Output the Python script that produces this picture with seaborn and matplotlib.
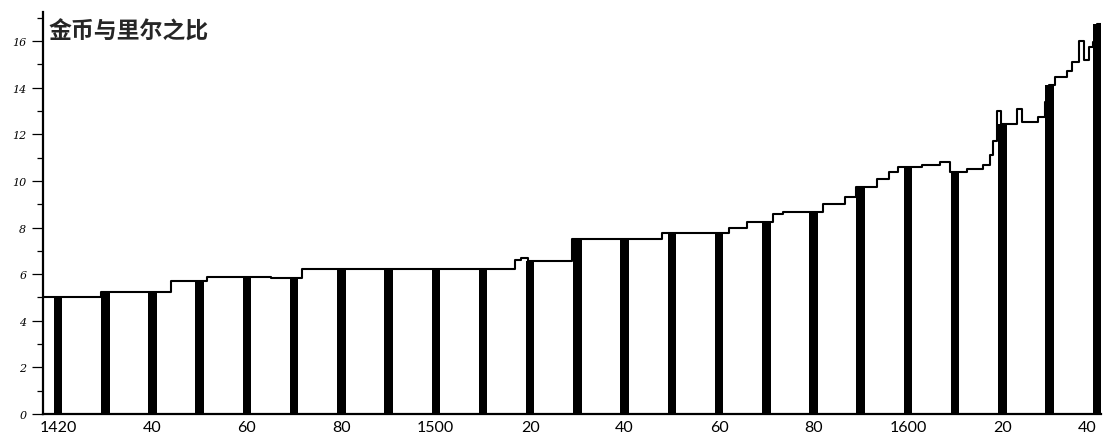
import matplotlib
matplotlib.use("Agg")
import matplotlib.pyplot as plt
from matplotlib.ticker import MultipleLocator
import seaborn as sns

# Gold : real ratio, value at each decade (drawn as bars)
decades = [1420, 1430, 1440, 1450, 1460, 1470, 1480, 1490, 1500, 1510, 1520, 1530,
           1540, 1550, 1560, 1570, 1580, 1590, 1600, 1610, 1620, 1630, 1640]
decade_ratio = [5.0, 5.22, 5.22, 5.7, 5.88, 5.82, 6.22, 6.22, 6.22, 6.22, 6.55, 7.5,
                7.5, 7.75, 7.75, 8.24, 8.67, 9.75, 10.6, 10.4, 12.45, 14.1, 16.75]

# Year-by-year changes of the ratio (step curve)
step_years = [1416.8, 1429, 1444, 1451.6, 1465, 1471.7, 1516.8, 1518, 1519.5, 1528.9,
              1548, 1562, 1566, 1571.5, 1573.6, 1582, 1586.7, 1588.9, 1593.5, 1596,
              1597.8, 1603, 1606.9, 1609, 1612.6, 1616, 1617.3, 1618, 1618.9, 1619.8,
              1623.2, 1624.2, 1627.6, 1629, 1629.8, 1631.2, 1633.8, 1634.8, 1636.2,
              1637.4, 1638.3, 1639.3, 1640, 1640.9]
step_ratio = [5.0, 5.22, 5.7, 5.88, 5.82, 6.22, 6.6, 6.7, 6.55, 7.5,
              7.75, 8.0, 8.24, 8.58, 8.67, 9.0, 9.3, 9.75, 10.1, 10.4,
              10.58, 10.68, 10.8, 10.4, 10.5, 10.68, 11.1, 11.7, 13.0, 12.45,
              13.1, 12.55, 12.75, 13.4, 14.1, 14.45, 14.7, 15.1, 16.0,
              15.2, 15.75, 15.95, 16.75, 16.75]

x_ticks = [1420, 1440, 1460, 1480, 1500, 1520, 1540, 1560, 1580, 1600, 1620, 1640]
x_labels = ["1420", "40", "60", "80", "1500", "20", "40", "60", "80", "1600", "20", "40"]
y_ticks = [0, 2, 4, 6, 8, 10, 12, 14, 16]
title = "金币与里尔之比"

sns.set_theme(style="white")
plt.rcParams["font.family"] = ["Lato", "DejaVu Sans"]

fig = plt.figure(figsize=(11.03, 4.35), dpi=100)
ax = fig.add_axes([43 / 1103, 20 / 435, 1058 / 1103, 402 / 435])

sns.barplot(x=decades, y=decade_ratio, native_scale=True, width=0.18,
            color="black", saturation=1, edgecolor="black", linewidth=0, ax=ax)
sns.lineplot(x=step_years, y=step_ratio, drawstyle="steps-post", color="black",
             linewidth=1.5, errorbar=None, ax=ax)

ax.set_xlim(1416.8, 1640.9)
ax.set_ylim(0, 17.25)

ax.set_xticks(x_ticks)
ax.set_xticklabels(x_labels, fontsize=11.5)
ax.tick_params(axis="x", length=0, pad=4, colors="black")
# keep the last year label inside the figure
ax.get_xticklabels()[-1].set_horizontalalignment("right")

ax.set_yticks(y_ticks)
ax.set_yticklabels([str(v) for v in y_ticks], fontsize=8, style="italic",
                   family=["DejaVu Serif"])
ax.yaxis.set_minor_locator(MultipleLocator(1))
ax.tick_params(axis="y", which="major", left=True, length=8, width=0.9,
               direction="out", pad=4, colors="black")
ax.tick_params(axis="y", which="minor", left=True, length=4, width=0.9,
               direction="out", colors="black")

for side in ("top", "right"):
    ax.spines[side].set_visible(False)
for side in ("left", "bottom"):
    ax.spines[side].set_color("black")
    ax.spines[side].set_linewidth(1.6)
ax.set_xlabel("")
ax.set_ylabel("")

ax.text(0.005, 0.952, title, transform=ax.transAxes, fontsize=16.5,
        fontweight="bold", va="center", ha="left",
        family=["Noto Sans CJK SC", "DejaVu Sans"])

fig.savefig("out.png", dpi=100, facecolor="white")
